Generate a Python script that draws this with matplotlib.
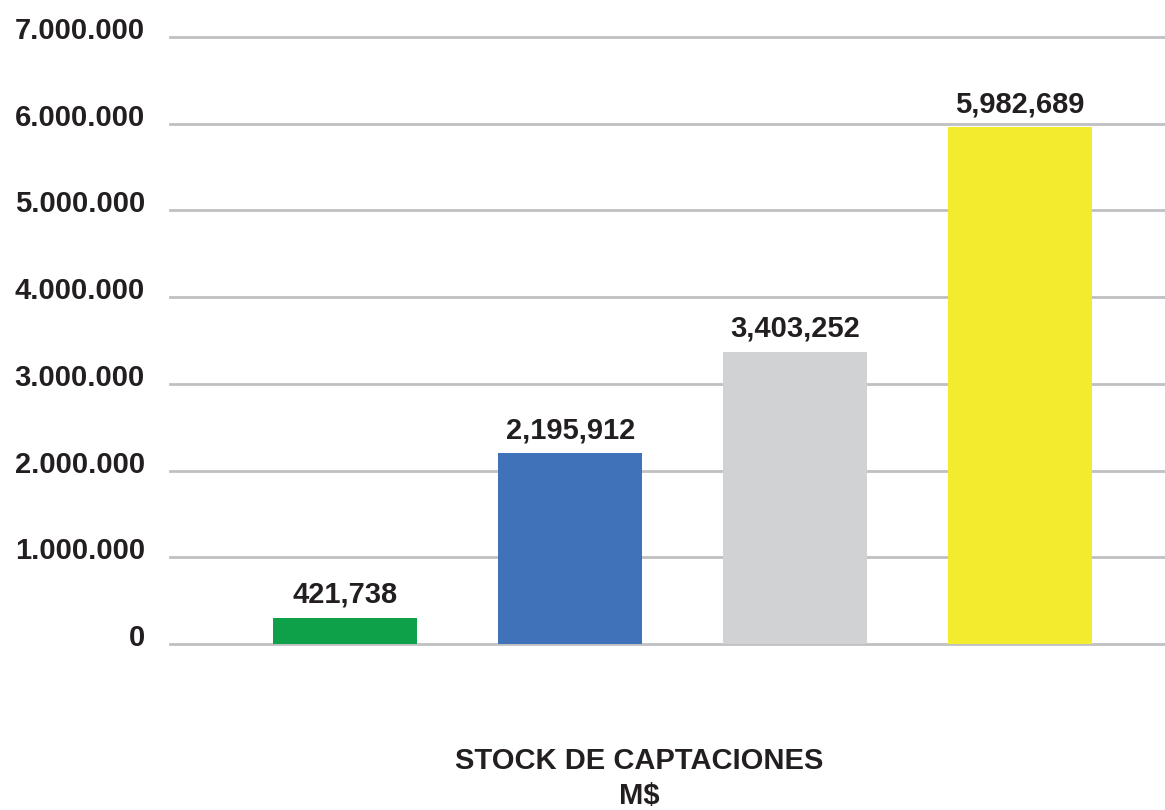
import matplotlib.pyplot as plt
import matplotlib.transforms as mtransforms

plt.rcParams['font.family'] = ['Liberation Sans', 'DejaVu Sans']
plt.rcParams['font.weight'] = 'bold'

# bar heights, labels as printed on it
categories = ["A", "B", "C", "D"]
heights = [300000, 2200000, 3370000, 5960000]
bar_labels = ["421,738", "2,195,912", "3,403,252", "5,982,689"]
colors = ["#0FA14A", "#3F72B8", "#D1D2D4", "#F3EC2E"]
yticks = [0, 1000000, 2000000, 3000000, 4000000, 5000000, 6000000, 7000000]
ytick_labels = ["0", "1.000.000", "2.000.000", "3.000.000", "4.000.000",
                "5.000.000", "6.000.000", "7.000.000"]

fig = plt.figure(figsize=(11.65, 8.1), dpi=100)
ax = fig.add_axes([170/1165, (810-644)/810, 1-170/1165, 607/810])

x = range(len(categories))
ax.bar(x, heights, width=0.64, color=colors, zorder=2)
for i, (h, lab) in enumerate(zip(heights, bar_labels)):
    ax.annotate(lab, (i, h), xytext=(0, 9), textcoords="offset pixels",
                ha="center", va="bottom", fontsize=21, fontweight="bold",
                color="#231F20")

ax.set_xlim(-0.78, 3.645)
ax.set_ylim(0, 7000000)
ax.set_yticks(yticks)
ax.set_yticklabels(ytick_labels, fontsize=21, fontweight="bold", color="#231F20")
ax.set_xticks([])
ax.tick_params(axis="y", length=0, pad=18)
ax.grid(axis="y", color="#C0C0C2", linewidth=2)
ax.set_axisbelow(True)
for gl in ax.get_ygridlines():
    gl.set_clip_on(False)
for s in ax.spines.values():
    s.set_visible(False)

off = mtransforms.ScaledTranslation(0, 0.09, fig.dpi_scale_trans)
for t in ax.get_yticklabels():
    t.set_transform(t.get_transform() + off)

fig.text(639/1165, 1-761/810, "STOCK DE CAPTACIONES", ha="center", va="center",
         fontsize=21, fontweight="bold", color="#231F20")
fig.text(639/1165, 1-796/810, "M$", ha="center", va="center",
         fontsize=21, fontweight="bold", color="#231F20")

fig.savefig("out.png", dpi=100)
